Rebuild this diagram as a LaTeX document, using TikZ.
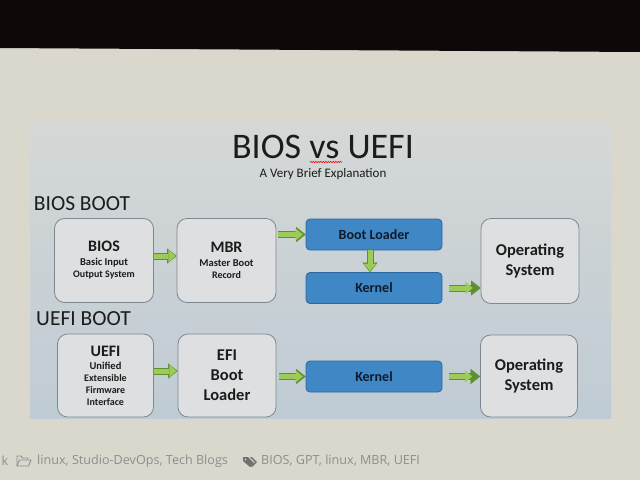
\documentclass[tikz,border=0pt]{standalone}
\usepackage{fontspec}
\setmainfont{Carlito}
\newfontfamily\footfont{Open Sans}
\usepackage{tikz}
\usetikzlibrary{
    arrows.meta,  % arrow tips
    decorations.pathmorphing,  % wavy underline
    positioning,
}

\definecolor{bezel}{HTML}{0E0808}
\definecolor{screenbg}{HTML}{DAD7CD}
\definecolor{slidetop}{HTML}{D5D8D6}
\definecolor{slidebot}{HTML}{BFCBD4}
\definecolor{boxfill}{HTML}{DDDFE0}
\definecolor{boxline}{HTML}{7E8893}
\definecolor{bluefill}{HTML}{4087C6}
\definecolor{blueline}{HTML}{2C679E}
\definecolor{arrowfill}{HTML}{9CCB58}
\definecolor{arrowline}{HTML}{5F8F2E}
\definecolor{ink}{HTML}{1C1C1C}
\definecolor{blueink}{HTML}{0F1B2A}
\definecolor{footink}{HTML}{8E8E8E}

\tikzset{
    greybox/.style={draw=boxline, fill=boxfill, line width=0.8pt, rounded corners=10pt,
        text=ink, font=\bfseries, align=center, inner sep=0pt},
    bluebox/.style={draw=blueline, fill=bluefill, line width=0.8pt, rounded corners=4pt,
        text=blueink, font=\bfseries\fontsize{14}{16}\selectfont,
        minimum width=136pt, minimum height=31pt, inner sep=0pt},
    garrow/.style={draw=arrowfill, line width=5pt, shorten >=1.2pt,
        -{Triangle[length=7pt, width=12pt, line width=0.01pt]},
        preaction={draw=arrowline, line width=7pt, shorten >=0pt,
            -{Triangle[length=9.5pt, width=15pt, line width=0.01pt]}}},
    heading/.style={font=\fontsize{21.5}{24}\selectfont, text=ink, inner sep=0pt},
    footnote/.style={font=\footfont\fontsize{12.6}{14}\selectfont, text=footink, inner sep=0pt},
}

\begin{document}
\begin{tikzpicture}[x=1pt, y=-1pt]
    \useasboundingbox (0, 0) rectangle (640, 480);

    % screen, bezel and slide
    \fill[screenbg] (0, 0) rectangle (640, 480);
    \fill[bezel] (0, 0) -- (640, 0) -- (640, 52) -- (0, 48) -- cycle;
    \shade[top color=slidetop, bottom color=slidebot] (30, 122) rectangle (611, 418);

    \node[text=ink, font=\fontsize{36}{40}\selectfont, inner sep=0pt] (title) at (323, 147) {BIOS vs UEFI};
    \node[text=ink, font=\fontsize{13}{15}\selectfont, inner sep=0pt] (subtitle) at (323, 174) {A Very Brief Explanation};
    \draw[red, line width=0.5pt, decorate, decoration={snake, amplitude=0.8pt, segment length=2.5pt}] (310, 162) -- (342, 162);

    % BIOS boot
    \node[heading] (biosboot) at (82, 204) {BIOS BOOT};
    \node[greybox, minimum width=99pt, minimum height=84pt] (bios) at (104, 260.5)
        {\fontsize{16}{18}\selectfont BIOS\\[2pt]\fontsize{10.5}{13}\selectfont Basic Input\\Output System};
    \node[greybox, minimum width=99pt, minimum height=84pt] (mbr) at (226.5, 260.5)
        {\fontsize{16}{18}\selectfont MBR\\[2pt]\fontsize{10.5}{13}\selectfont Master Boot\\Record};
    \node[bluebox] (bootldr) at (374, 234.5) {Boot Loader};
    \node[bluebox] (kernA) at (374, 288) {Kernel};
    \node[greybox, minimum width=98pt, minimum height=85pt, font=\bfseries\fontsize{16.5}{20}\selectfont] (osA) at (530, 261)
        {Operating\\System};

    \draw[garrow] ([yshift=4.5pt]bios.east) -- ([yshift=4.5pt]mbr.west);
    \draw[garrow, shorten <=2pt, shorten >=3pt] (mbr.east |- bootldr.west) -- (bootldr.west);
    \draw[garrow] ([xshift=-4pt]bootldr.south) -- ([xshift=-4pt]kernA.north);
    \draw[garrow, shorten <=7pt, shorten >=8pt] (kernA.east) -- (kernA.east -| osA.west);

    % UEFI boot
    \node[heading] (uefiboot) at (83.5, 319) {UEFI BOOT};
    \node[greybox, minimum width=96pt, minimum height=83pt] (uefi) at (105.5, 375.5)
        {\fontsize{16}{18}\selectfont UEFI\\[1pt]\fontsize{10.5}{12.5}\selectfont Unified\\Extensible\\Firmware\\Interface};
    \node[greybox, minimum width=98pt, minimum height=83pt, font=\bfseries\fontsize{16.5}{20}\selectfont] (efildr) at (227, 375.5)
        {EFI\\Boot\\Loader};
    \node[bluebox] (kernB) at (374, 376.5) {Kernel};
    \node[greybox, minimum width=97pt, minimum height=82pt, font=\bfseries\fontsize{16.5}{20}\selectfont] (osB) at (529, 376)
        {Operating\\System};

    \draw[garrow] ([yshift=4.5pt]uefi.east) -- ([yshift=4.5pt]efildr.west);
    \draw[garrow, shorten <=3pt, shorten >=3pt] (efildr.east |- kernB.west) -- (kernB.west);
    \draw[garrow, shorten <=7pt, shorten >=8pt] (kernB.east) -- (kernB.east -| osB.west);

    % blog footer
    \node[footnote] (cut) at (5, 461) {k};
    \draw[footink, line width=0.9pt, line join=round] (17, 466) -- (17, 456) -- (21, 456) -- (22.5, 458) -- (28, 458) -- (28, 460);
    \draw[footink, line width=0.9pt, line join=round] (17, 466) -- (19.5, 460) -- (31, 460) -- (28.5, 466) -- cycle;
    \node[footnote, anchor=west] (cats) at (37, 461) {linux, Studio-DevOps, Tech Blogs};
    \fill[footink!80!black] (243, 457) -- (248, 457) -- (254, 463) -- (250, 467) -- (243, 461) -- cycle;
    \fill[footink!80!black] (250, 457) -- (252, 457) -- (257, 462) -- (252, 467) -- (251, 466) -- (255, 462) -- cycle;
    \fill[screenbg] (245.5, 459.5) circle (0.9pt);
    \node[footnote, anchor=west] (tags) at (261, 461) {BIOS, GPT, linux, MBR, UEFI};
\end{tikzpicture}
\end{document}
